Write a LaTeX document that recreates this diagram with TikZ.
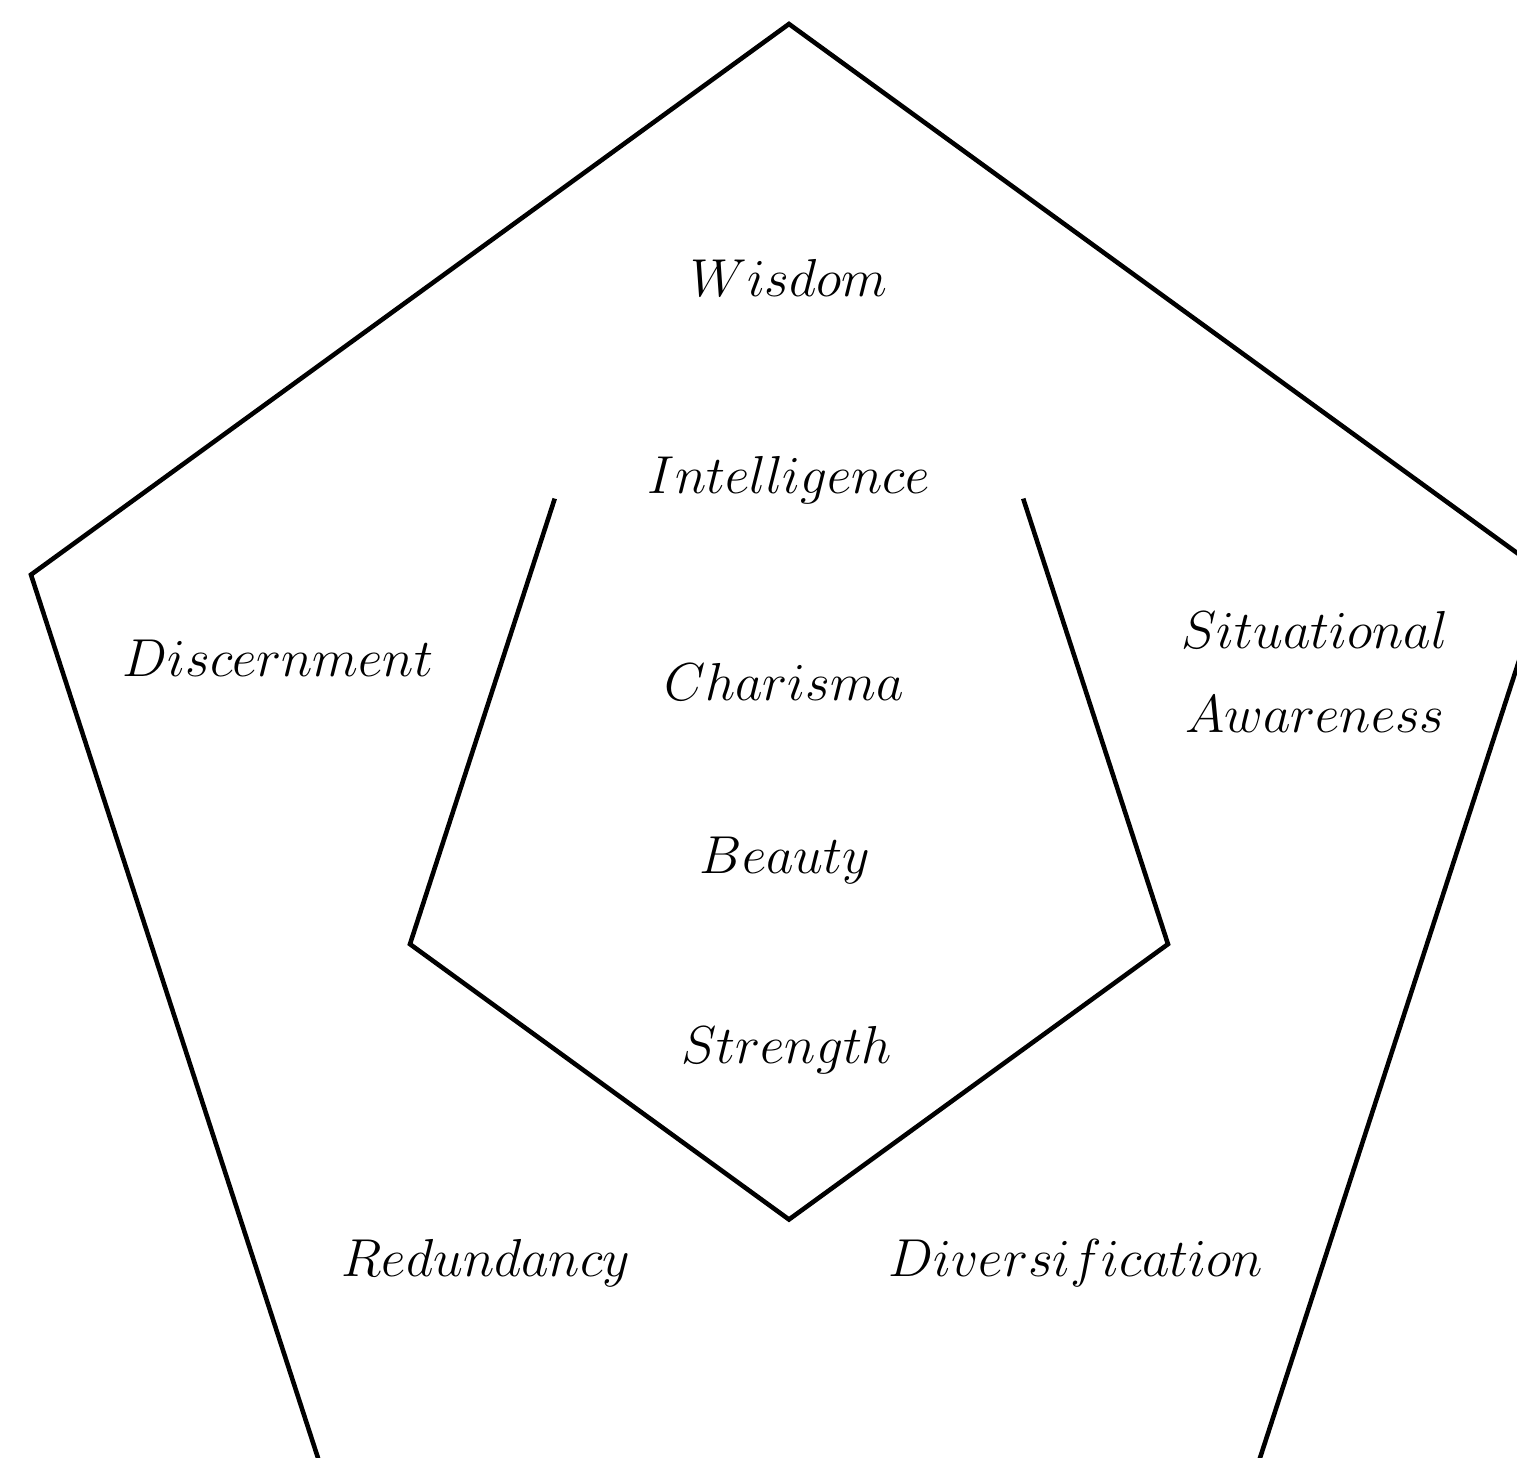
\documentclass[tikz,border=0pt]{standalone}
\usepackage{fix-cm}
\usetikzlibrary{positioning}
\begin{document}
\begin{tikzpicture}[
  edge/.style={line width=1.3pt, line join=miter},
  word/.style={font=\fontsize{15.2}{24}\selectfont, align=center},
]
\useasboundingbox (-7.89,-6.37) rectangle (7.28,8.21);
\clip (-7.89,-6.37) rectangle (7.28,8.21);

% outer pentagon
\coordinate (O1) at (90:7.97);
\coordinate (O2) at (162:7.97);
\coordinate (O3) at (234:7.97);
\coordinate (O4) at (306:7.97);
\coordinate (O5) at (18:7.97);
\draw[edge] (O1) -- (O2) -- (O3) -- (O4) -- (O5) -- cycle;

% inner pentagon, open at the top
\coordinate (I1) at (126:3.985);
\coordinate (I2) at (198:3.985);
\coordinate (I3) at (270:3.985);
\coordinate (I4) at (342:3.985);
\coordinate (I5) at (54:3.985);
\draw[edge] (I1) -- (I2) -- (I3) -- (I4) -- (I5);

% inner words
\node[word] (wisdom) at (0,5.43) {$Wisdom$};
\node[word] (intel) at (0,3.41) {$Intelligence$};
\node[word] (charisma) at (-0.05,1.39) {$Charisma$};
\node[word] (beauty) at (-0.04,-0.39) {$Beauty$};
\node[word] (strength) at (-0.02,-2.29) {$Strength$};

% outer words
\node[word] (discern) at (-5.11,1.63) {$Discernment$};
\node[word] (situ) at (5.26,1.49) {$Situational$\\$Awareness$};
\node[word] (redund) at (-3.03,-4.42) {$Redundancy$};
\node[word] (divers) at (2.87,-4.42) {$Diversification$};

\end{tikzpicture}
\end{document}
